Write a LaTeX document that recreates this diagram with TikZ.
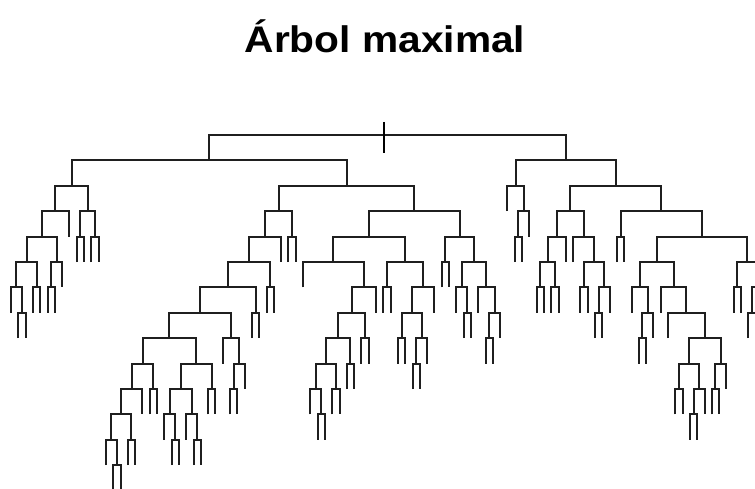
\documentclass[tikz,border=0pt]{standalone}
\usepackage{fontspec}
\newfontfamily\titlefont{Liberation Sans}
\usetikzlibrary{calc}

% inner node: midpoint of its two children, placed on level #4,
% joined to both children by a square bracket
\newcommand\branch[4]{%
  \coordinate (#1m) at ($(#2)!0.5!(#3)$);
  \coordinate (#1) at (#1m |- lv#4);
  \draw[br] (#2) |- (#1) -| (#3);
}

\begin{document}
\begin{tikzpicture}[x=1pt,y=-1pt,
  br/.style={line width=2pt,draw=black!88},
  tick/.style={line width=2pt,draw=black}]
\useasboundingbox (0,0) rectangle (755,489);

\node[anchor=base,font=\titlefont\bfseries\fontsize{37}{40}\selectfont,xscale=1.1]
  (title) at (385,53) {Árbol maximal};

\begin{scope}
\clip (0,0) rectangle (755,489);

% depth levels
\foreach \d in {0,...,14} \coordinate (lv\d) at (0,{135+25.4*\d});

% terminal nodes: index / depth of their lower end
\foreach \i/\d in {1/7,2/8,3/8,4/7,5/7,6/7,7/7,8/6,9/4,10/5,11/5,12/5,13/5,
  14/13,15/14,16/14,17/13,18/13,19/11,20/11,21/11,22/12,23/13,24/13,25/12,
  26/13,27/13,28/11,29/11,30/9,31/11,32/11,33/10,34/8,35/8,36/7,37/7,38/5,
  39/5,40/5,41/6,42/11,43/12,44/12,45/11,46/11,47/10,48/10,49/9,50/9,51/7,
  52/7,53/7,54/9,55/9,56/10,57/10,58/9,59/7,60/6,61/6,62/7,63/8,64/8,65/7,
  66/9,67/9,68/8,69/3,70/5,71/5,72/4,73/7,74/7,75/7,76/7,77/5,78/5,79/7,
  80/7,81/8,82/8,83/7,84/5,85/5,86/7,87/9,88/9,89/8,90/7,91/8,92/11,93/11,
  94/12,95/12,96/11,97/11,98/11,99/10,100/7,101/7,102/8,103/8,104/7}
  \coordinate (l\i) at ({3.7+7.3*\i},{135+25.4*\d});

% left / left
\branch{n23}{l2}{l3}{7}
\branch{n123}{l1}{n23}{6}
\branch{n45}{l4}{l5}{6}
\branch{n1to5}{n123}{n45}{5}
\branch{n67}{l6}{l7}{6}
\branch{n678}{n67}{l8}{5}
\branch{LLLL}{n1to5}{n678}{4}
\branch{LLL}{LLLL}{l9}{3}
\branch{n1011}{l10}{l11}{4}
\branch{n1213}{l12}{l13}{4}
\branch{LLR}{n1011}{n1213}{3}
\branch{LL}{LLL}{LLR}{2}

% left / right / left
\branch{n1516}{l15}{l16}{13}
\branch{K}{l14}{n1516}{12}
\branch{n1718}{l17}{l18}{12}
\branch{J}{K}{n1718}{11}
\branch{I}{J}{l19}{10}
\branch{n2021}{l20}{l21}{10}
\branch{G}{I}{n2021}{9}
\branch{n2324}{l23}{l24}{12}
\branch{M1}{l22}{n2324}{11}
\branch{n2627}{l26}{l27}{12}
\branch{M2}{l25}{n2627}{11}
\branch{M}{M1}{M2}{10}
\branch{n2829}{l28}{l29}{10}
\branch{H}{M}{n2829}{9}
\branch{E}{G}{H}{8}
\branch{n3132}{l31}{l32}{10}
\branch{F1}{n3132}{l33}{9}
\branch{F}{l30}{F1}{8}
\branch{D}{E}{F}{7}
\branch{n3435}{l34}{l35}{7}
\branch{C}{D}{n3435}{6}
\branch{n3637}{l36}{l37}{6}
\branch{B}{C}{n3637}{5}
\branch{A}{B}{l38}{4}
\branch{n3940}{l39}{l40}{4}
\branch{LRL}{A}{n3940}{3}

% left / right / right
\branch{n4344}{l43}{l44}{11}
\branch{P6}{l42}{n4344}{10}
\branch{n4546}{l45}{l46}{10}
\branch{P5}{P6}{n4546}{9}
\branch{n4748}{l47}{l48}{9}
\branch{P4}{P5}{n4748}{8}
\branch{n4950}{l49}{l50}{8}
\branch{P3}{P4}{n4950}{7}
\branch{P2}{P3}{l51}{6}
\branch{P}{l41}{P2}{5}
\branch{n5253}{l52}{l53}{6}
\branch{n5455}{l54}{l55}{8}
\branch{n5657}{l56}{l57}{9}
\branch{Q4}{n5657}{l58}{8}
\branch{Q3}{n5455}{Q4}{7}
\branch{Q2}{Q3}{l59}{6}
\branch{Q}{n5253}{Q2}{5}
\branch{N1}{P}{Q}{4}
\branch{n6061}{l60}{l61}{5}
\branch{n6364}{l63}{l64}{7}
\branch{S1}{l62}{n6364}{6}
\branch{n6667}{l66}{l67}{8}
\branch{S3}{n6667}{l68}{7}
\branch{S2}{l65}{S3}{6}
\branch{S}{S1}{S2}{5}
\branch{N2}{n6061}{S}{4}
\branch{LRR}{N1}{N2}{3}
\branch{LR}{LRL}{LRR}{2}
\branch{L}{LL}{LR}{1}

% right
\branch{n7071}{l70}{l71}{4}
\branch{RL1}{n7071}{l72}{3}
\branch{RL}{l69}{RL1}{2}
\branch{n7374}{l73}{l74}{6}
\branch{n7576}{l75}{l76}{6}
\branch{T11}{n7374}{n7576}{5}
\branch{T1}{T11}{l77}{4}
\branch{n7980}{l79}{l80}{6}
\branch{n8182}{l81}{l82}{7}
\branch{T23}{n8182}{l83}{6}
\branch{T22}{n7980}{T23}{5}
\branch{T2}{l78}{T22}{4}
\branch{T}{T1}{T2}{3}
\branch{n8485}{l84}{l85}{4}
\branch{n8788}{l87}{l88}{8}
\branch{W11}{n8788}{l89}{7}
\branch{W1}{l86}{W11}{6}
\branch{n9293}{l92}{l93}{10}
\branch{n9495}{l94}{l95}{11}
\branch{W42}{n9495}{l96}{10}
\branch{W4}{n9293}{W42}{9}
\branch{n9798}{l97}{l98}{10}
\branch{W5}{n9798}{l99}{9}
\branch{W3}{W4}{W5}{8}
\branch{W21}{l91}{W3}{7}
\branch{W2}{l90}{W21}{6}
\branch{W}{W1}{W2}{5}
\branch{n100101}{l100}{l101}{6}
\branch{n102103}{l102}{l103}{7}
\branch{Y}{n102103}{l104}{6}
\branch{X}{n100101}{Y}{5}
\branch{V}{W}{X}{4}
\branch{U}{n8485}{V}{3}
\branch{RR}{T}{U}{2}
\branch{R}{RL}{RR}{1}

% root and its mark
\branch{root}{L}{R}{0}
\coordinate (ticktop) at ($(root)+(-3,-13)$);
\coordinate (tickbot) at ($(root)+(-3,18)$);
\draw[tick] (ticktop) -- (tickbot);
\end{scope}
\end{tikzpicture}
\end{document}
